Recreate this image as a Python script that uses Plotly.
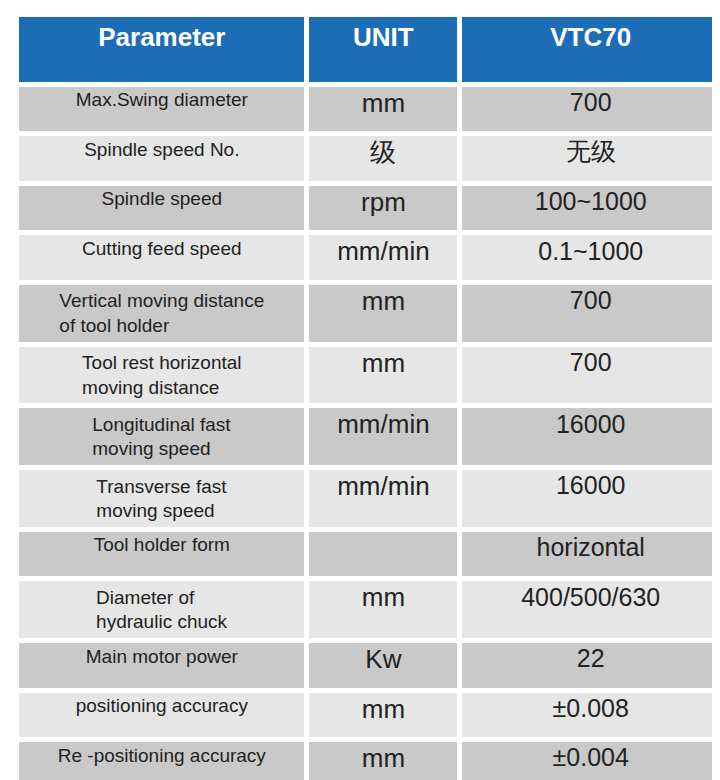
import plotly.graph_objects as go

headers = ["Parameter", "UNIT", "VTC70"]
params = ["Max.Swing diameter", "Spindle speed No.", "Spindle speed", "Cutting feed speed",
          "Vertical moving distance<br>of tool holder", "Tool rest horizontal<br>moving distance",
          "Longitudinal fast<br>moving speed", "Transverse fast<br>moving speed", "Tool holder form",
          "Diameter of<br>hydraulic chuck", "Main motor power", "positioning accuracy",
          "Re -positioning accuracy", "Machine size"]
units = ["mm", "级", "rpm", "mm/min", "mm", "mm", "mm/min", "mm/min", "", "mm", "Kw", "mm", "mm", "mm"]
values = ["700", "无级", "100~1000", "0.1~1000", "700", "700", "16000", "16000", "horizontal",
          "400/500/630", "22", "±0.008", "±0.004", "2050x1800x3200"]

row_colors = ["#c9c9c9" if i % 2 == 0 else "#e6e6e6" for i in range(len(params))]

fig = go.Figure(go.Table(
    columnwidth=[285, 150, 257],
    header=dict(values=[f"<b>{h}</b>" for h in headers], fill_color="#1c6db6",
                font=dict(color="white", size=26, family="Liberation Sans, Arial"),
                align="center", height=70, line=dict(color="white", width=5)),
    cells=dict(values=[params, units, values],
               fill_color=[row_colors] * 3,
               font=dict(color="#222", size=[19, 26, 25],
                         family="Liberation Sans, Arial"),
               align="center", height=49.6, line=dict(color="white", width=5)),
    domain=dict(x=[0.012, 0.992], y=[0, 1]),
))
fig.update_layout(width=720, height=780, margin=dict(l=0, r=0, t=6, b=0),
                  paper_bgcolor="white")
fig.write_html("out.html")
